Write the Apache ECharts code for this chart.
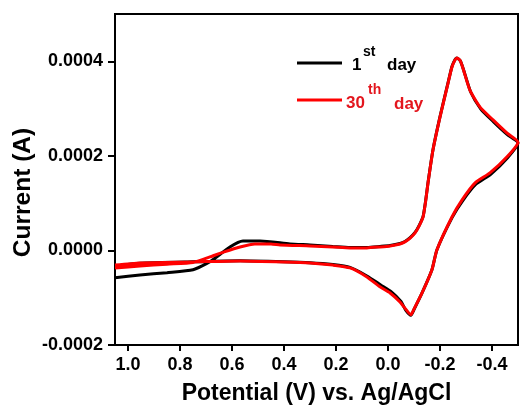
<!DOCTYPE html>
<html><head><meta charset="utf-8">
<script src="https://cdn.jsdelivr.net/npm/echarts@6/dist/echarts.min.js"></script>
<style>html,body{margin:0;padding:0;background:#fff}#c{width:521px;height:405px}</style>
</head><body><div id="c"></div>
<script>
// Potential (V vs Ag/AgCl) and current (A), loop order
const potentialDay1 = [1.05,0.954,0.85,0.75,0.685,0.608,0.558,0.492,0.377,0.3,0.212,0.146,0.081,0.031,-0.008,-0.046,-0.065,-0.085,-0.104,-0.12,-0.135,-0.145,-0.154,-0.173,-0.2,-0.231,-0.246,-0.258,-0.265,-0.278,-0.29,-0.318,-0.357,-0.406,-0.459,-0.5,
  -0.46,-0.395,-0.338,-0.287,-0.247,-0.188,-0.169,-0.131,-0.1,-0.088,-0.068,-0.05,-0.012,0.028,0.081,0.146,0.212,0.3,0.4,0.569,0.75,0.954,1.05];
const currentDay1 = [-0.000058,-0.000052,-0.000047,-0.000041,-0.000024,0.0000074,0.00002,0.00002,0.0000137,0.0000116,0.0000085,0.0000063,0.0000063,0.0000085,0.0000105,0.0000147,0.000019,0.000027,0.000038,0.000053,0.000072,0.000106,0.000144,0.000213,0.000283,0.000355,0.000389,0.000404,0.000407,0.000401,0.000383,0.000335,0.000299,0.000272,0.000245,0.000227,
  0.000196,0.000161,0.00014,0.000105,0.00007,0.000001,-0.000041,-0.00009,-0.000125,-0.000137,-0.000126,-0.000108,-0.000087,-0.000073,-0.000054,-0.000036,-0.00003,-0.000026,-0.000024,-0.000022,-0.000024,-0.000027,-0.000033];
const potentialDay30 = [1.05,0.954,0.85,0.75,0.685,0.63,0.569,0.512,0.45,0.415,0.3,0.212,0.146,0.081,0.031,-0.008,-0.046,-0.065,-0.085,-0.104,-0.12,-0.135,-0.145,-0.154,-0.173,-0.2,-0.231,-0.246,-0.258,-0.265,-0.277,-0.288,-0.315,-0.354,-0.404,-0.458,-0.5,
  -0.458,-0.392,-0.335,-0.285,-0.246,-0.188,-0.169,-0.131,-0.1,-0.088,-0.065,-0.046,-0.008,0.031,0.081,0.146,0.212,0.3,0.4,0.569,0.75,0.954,1.05];
const currentDay30 = [-0.000037,-0.000033,-0.000029,-0.0000255,-0.0000137,-0.000003,0.0000074,0.0000137,0.0000137,0.0000116,0.0000095,0.0000074,0.0000053,0.0000053,0.0000074,0.0000095,0.0000137,0.000018,0.000026,0.000037,0.000052,0.0000708,0.000105,0.000143,0.0002125,0.000282,0.000354,0.000388,0.000403,0.000407,0.000402,0.000386,0.000339,0.000303,0.000276,0.000248,0.000229,
  0.000198,0.000164,0.000143,0.000107,0.0000708,0.0000011,-0.000041,-0.00009,-0.000124,-0.000136,-0.000122,-0.000109,-0.00009,-0.000077,-0.000056,-0.000037,-0.000031,-0.0000264,-0.0000243,-0.0000222,-0.0000243,-0.0000264,-0.000031];
const xTicks = [1.0,0.8,0.6,0.4,0.2,0.0,-0.2,-0.4];
const yTicks = [-0.0002,0,0.0002,0.0004];
const seriesNames = ['1st day','30th day'];
const legendParts = [['1','st',' day'],['30','th',' day']];

const zip = (xs, ys) => xs.map((x, i) => [x, ys[i]]);
const font = '"Liberation Sans", Arial, sans-serif';
const black = '#000', red = '#ff0000', redText = '#e3161e';
const chart = echarts.init(document.getElementById('c'), null, {renderer: 'canvas'});

function legendItem(parts, color, textColor, lineY, x0, supX, dayX, dy) {
  const mk = (text, x, y, size) => ({type: 'text', x: x, y: y, silent: true,
    style: {text: text, fill: textColor, font: 'bold ' + size + 'px ' + font, textAlign: 'left', textVerticalAlign: 'middle'}});
  return [
    {type: 'line', shape: {x1: 297, y1: lineY, x2: 342, y2: lineY}, style: {stroke: color, lineWidth: 3}, silent: true},
    mk(parts[0], x0, lineY + 2 + dy, 17),
    mk(parts[1], supX, lineY - 10.5 + dy, 14),
    mk(parts[2].trim(), dayX, lineY + 2 + dy + (dy ? 1 : 0), 17)
  ];
}

chart.setOption({
  animation: false,
  backgroundColor: '#fff',
  grid: {left: 115, top: 14, right: 3, bottom: 60, show: true, borderColor: '#000', borderWidth: 2,
         containLabel: false, outerBoundsMode: 'none'},
  legend: {show: false, data: seriesNames},
  graphic: [].concat(
    legendItem(legendParts[0], black, black, 63, 352, 363, 387, 0),
    legendItem(legendParts[1], red, redText, 100, 346, 368, 394, 1)
  ),
  xAxis: {
    type: 'value', inverse: true, min: -0.5, max: 1.05,
    name: 'Potential (V) vs. Ag/AgCl', nameLocation: 'middle', nameGap: 37, nameMoveOverlap: false,
    nameTextStyle: {fontSize: 23, fontWeight: 'bold', color: '#000', fontFamily: font},
    axisLine: {show: true, onZero: false, lineStyle: {color: '#000', width: 2}},
    axisTick: {show: true, length: 6, lineStyle: {color: '#000', width: 2}, customValues: xTicks},
    axisLabel: {fontSize: 18, fontWeight: 'bold', color: '#000', fontFamily: font, margin: 11, customValues: xTicks, formatter: (v) => v.toFixed(1)},
    splitLine: {show: false}
  },
  yAxis: {
    type: 'value', min: -0.0002, max: 0.0005,
    name: 'Current (A)', nameLocation: 'middle', nameGap: 79, nameMoveOverlap: false,
    nameTextStyle: {fontSize: 24.5, fontWeight: 'bold', color: '#000', fontFamily: font, padding: [0, 26, 0, 0]},
    axisLine: {show: true, onZero: false, lineStyle: {color: '#000', width: 2}},
    axisTick: {show: true, length: 7, lineStyle: {color: '#000', width: 2}, customValues: yTicks},
    axisLabel: {fontSize: 18, fontWeight: 'bold', color: '#000', fontFamily: font, margin: 12, customValues: yTicks, formatter: (v) => v.toFixed(4)},
    splitLine: {show: false}
  },
  series: [
    {name: seriesNames[0], type: 'line', data: zip(potentialDay1, currentDay1), showSymbol: false, symbol: 'none', smooth: 0.2,
     lineStyle: {color: black, width: 3}, itemStyle: {color: black}, clip: true},
    {name: seriesNames[1], type: 'line', data: zip(potentialDay30, currentDay30), showSymbol: false, symbol: 'none', smooth: 0.2,
     lineStyle: {color: red, width: 3}, itemStyle: {color: red}, clip: true}
  ]
});
</script></body></html>
